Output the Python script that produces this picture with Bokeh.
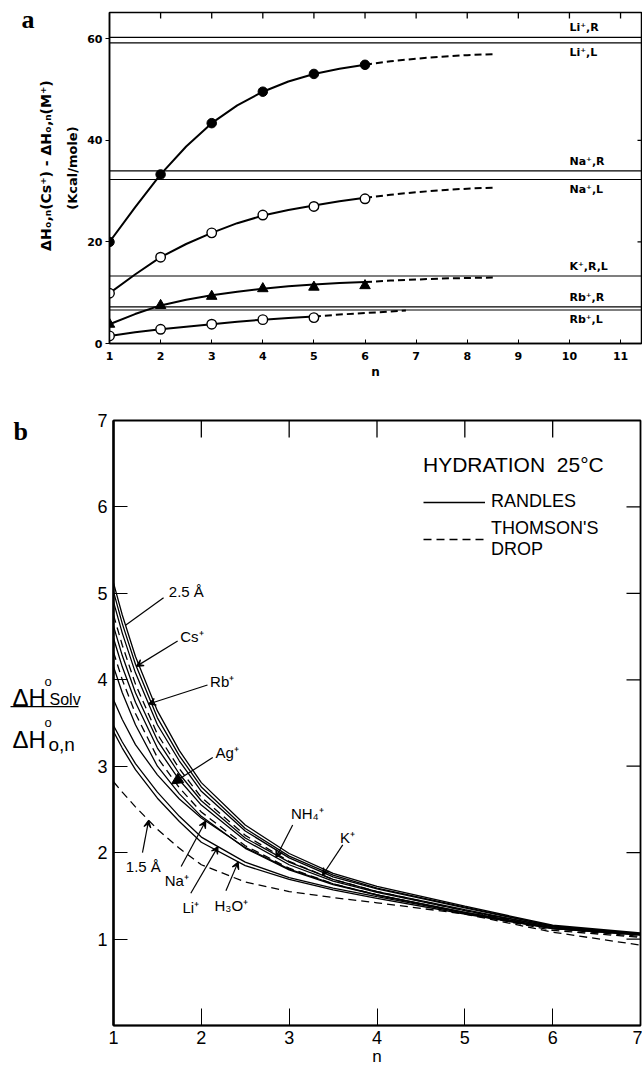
import numpy as np
from bokeh.plotting import figure
from bokeh.models import (Span, Label, Arrow, VeeHead, NormalHead, Range1d,
                          FixedTicker, Legend, LegendItem)
from bokeh.layouts import column, row
from bokeh.embed import file_html
from bokeh.resources import INLINE

# ---------------- panel a : ΔH(Cs+) - ΔH(M+) against n ----------------
a_n = [1, 2, 3, 4, 5, 6]
a_li_pts = [20.0, 33.3, 43.4, 49.6, 53.1, 54.9]
a_na_pts = [9.9, 17.0, 21.8, 25.3, 27.0, 28.5]
a_k_pts = [3.8, 7.5, 9.3, 10.8, 11.1, 11.4]
a_rb_n = [1, 2, 3, 4, 5]
a_rb_pts = [1.5, 2.8, 3.8, 4.7, 5.1]

a_fit_n = [1, 1.5, 2, 2.5, 3, 3.5, 4, 4.5, 5, 5.5, 6]
a_li_fit = [20.0, 26.8, 33.3, 38.8, 43.4, 46.9, 49.6, 51.6, 53.1, 54.1, 54.9]
a_na_fit = [9.9, 13.6, 17.0, 19.6, 21.8, 23.7, 25.2, 26.3, 27.2, 28.0, 28.7]
a_k_fit = [3.8, 5.8, 7.5, 8.6, 9.5, 10.2, 10.8, 11.3, 11.6, 11.9, 12.1]
a_ext_n = [6, 6.5, 7, 7.5, 8, 8.5]
a_li_ext = [54.9, 55.6, 56.1, 56.5, 56.8, 57.0]
a_na_ext = [28.7, 29.3, 29.8, 30.2, 30.5, 30.7]
a_k_ext = [12.1, 12.4, 12.6, 12.8, 12.9, 13.0]
a_rb_fit_n = [1, 1.5, 2, 2.5, 3, 3.5, 4, 4.5, 5]
a_rb_fit = [1.5, 2.2, 2.8, 3.3, 3.8, 4.3, 4.7, 5.0, 5.3]
a_rb_ext_n = [5, 5.5, 6, 6.5, 6.8]
a_rb_ext = [5.3, 5.7, 6.0, 6.3, 6.5]

# limiting values (R = Randles, L = Latimer)
limit_labels = ["Li⁺,R", "Li⁺,L", "Na⁺,R", "Na⁺,L", "K⁺,R,L", "Rb⁺,R", "Rb⁺,L"]
limit_values = [60.3, 59.2, 34.0, 32.3, 13.3, 7.2, 6.6]
limit_side = ["above", "below", "above", "below", "above", "above", "below"]

a_xticks = list(range(1, 12))
a_yticks = [0, 20, 40, 60]
A_XMAX, A_YMAX = 11.41, 65.2

# ---------------- panel b : ΔH_solv / ΔH_0,n against n ----------------
b_n = [1, 1.1, 1.25, 1.5, 1.75, 2, 2.5, 3, 3.5, 4, 5, 6, 7]
b_curves = {
    "r25":  [5.12, 4.75, 4.27, 3.64, 3.18, 2.81, 2.32, 1.99, 1.76, 1.61, 1.38, 1.16, 1.07],
    "cs":   [5.02, 4.65, 4.18, 3.56, 3.12, 2.76, 2.28, 1.96, 1.74, 1.59, 1.37, 1.15, 1.06],
    "rb":   [4.90, 4.54, 4.08, 3.48, 3.06, 2.71, 2.25, 1.94, 1.72, 1.58, 1.36, 1.15, 1.06],
    "dup":  [4.75, 4.40, 3.95, 3.37, 2.97, 2.64, 2.20, 1.90, 1.69, 1.55, 1.33, 1.12, 1.03],
    "k":    [4.62, 4.28, 3.85, 3.30, 2.91, 2.60, 2.17, 1.89, 1.69, 1.55, 1.34, 1.14, 1.06],
    "nh4":  [4.48, 4.15, 3.74, 3.21, 2.84, 2.55, 2.14, 1.86, 1.67, 1.54, 1.33, 1.14, 1.06],
    "dmid": [4.32, 4.00, 3.61, 3.10, 2.75, 2.47, 2.08, 1.82, 1.64, 1.51, 1.30, 1.10, 1.02],
    "ag":   [4.15, 3.85, 3.48, 3.00, 2.68, 2.42, 2.05, 1.80, 1.63, 1.51, 1.31, 1.13, 1.06],
    "na":   [3.77, 3.54, 3.25, 2.90, 2.62, 2.40, 2.06, 1.81, 1.64, 1.51, 1.31, 1.13, 1.05],
    "li":   [3.47, 3.28, 3.03, 2.70, 2.42, 2.18, 1.89, 1.71, 1.59, 1.49, 1.30, 1.12, 1.05],
    "h3o":  [3.40, 3.21, 2.96, 2.63, 2.36, 2.12, 1.85, 1.69, 1.57, 1.47, 1.29, 1.12, 1.05],
    "r15":  [2.82, 2.70, 2.53, 2.27, 2.05, 1.86, 1.66, 1.55, 1.48, 1.42, 1.29, 1.08, 0.93],
}
b_dashed = ["dup", "dmid", "r15"]
b_ticks = [1, 2, 3, 4, 5, 6, 7]
B_XMAX, B_YMAX = 7, 7

# curve labels: text, text anchor (n, value), alignment, arrow start (n, value), curve, n at tip, head
b_labels = [
    ("2.5 Å", (1.63, 5.02), "left", (1.57, 4.95), "r25", 1.137, None),
    ("Cs⁺", (1.76, 4.50), "left", (1.73, 4.45), "cs", 1.26, "vee"),
    ("Rb⁺", (2.10, 3.98), "left", (2.07, 3.94), "rb", 1.40, "vee"),
    ("Ag⁺", (2.16, 3.16), "left", (2.13, 3.10), "ag", 1.66, "solid"),
    ("NH₄⁺", (3.02, 2.45), "left", (3.04, 2.32), "nh4", 2.85, "vee"),
    ("K⁺", (3.58, 2.17), "left", (3.61, 2.09), "k", 3.38, "vee"),
    ("Na⁺", (1.72, 1.68), "center", (1.77, 1.84), "na", 2.05, "vee"),
    ("Li⁺", (1.88, 1.36), "center", (1.88, 1.53), "li", 2.19, "vee"),
    ("H₃O⁺", (2.15, 1.39), "left", (2.28, 1.56), "h3o", 2.42, "vee"),
    ("1.5 Å", (1.14, 1.84), "left", (1.33, 2.00), "r15", 1.40, "vee"),
]

SANS = "Liberation Sans"
LETTER = "DejaVu Sans"
INK = "black"


def margin_figure(w, h):
    """A bare strip whose data units are pixels, for texts left of an axis."""
    m = figure(width=w, height=h, x_range=Range1d(0, w), y_range=Range1d(0, h),
               x_axis_location=None, y_axis_location=None, min_border=0,
               output_backend="svg", toolbar_location=None)
    m.grid.visible = False
    m.outline_line_color = None
    return m


def style_axis(ax, font, size, bold=False):
    ax.major_label_text_font = font
    ax.major_label_text_font_size = size
    ax.major_label_text_font_style = "bold" if bold else "normal"
    ax.major_label_text_color = INK
    ax.axis_label_text_color = INK
    ax.axis_line_color = INK
    ax.major_tick_line_color = INK
    ax.minor_tick_line_color = None


# ======================= panel a =======================
MA_W, A_H = 84, 400
ma = margin_figure(MA_W, A_H)
ma.add_layout(Label(x=21, y=A_H - 8, text="a", text_baseline="alphabetic", text_color=INK,
                    text_font="Liberation Serif", text_font_size="26px", text_font_style="bold"))
ma.add_layout(Label(x=45, y=A_H - 185, text="ΔHₒ,ₙ(Cs⁺) - ΔHₒ,ₙ(M⁺)", angle=np.pi / 2,
                    text_align="center", text_baseline="middle", text_font=LETTER, text_color=INK,
                    text_font_size="14px", text_font_style="bold"))
ma.add_layout(Label(x=72, y=A_H - 188, text="(Kcal/mole)", angle=np.pi / 2,
                    text_align="center", text_baseline="middle", text_font=LETTER, text_color=INK,
                    text_font_size="13px", text_font_style="bold"))

pa = figure(width=642 - MA_W, height=A_H, x_range=Range1d(1, A_XMAX), y_range=Range1d(0, A_YMAX),
            output_backend="svg", toolbar_location=None,
            min_border_left=107 - MA_W, min_border_right=1, min_border_top=12, min_border_bottom=57)
pa.grid.visible = False
pa.outline_line_color = INK
pa.outline_line_width = 1.5

xa = pa.xaxis[0]
style_axis(xa, LETTER, "11px", bold=True)
xa.ticker = FixedTicker(ticks=a_xticks)
xa.major_tick_in = 4
xa.major_tick_out = 0
xa.major_label_standoff = 8
xa.axis_label = "n"
xa.axis_label_text_font = LETTER
xa.axis_label_text_font_size = "12px"
xa.axis_label_text_font_style = "bold"
xa.axis_label_standoff = 2
xa.axis_line_width = 1.5

ya = pa.yaxis[0]
style_axis(ya, LETTER, "11px", bold=True)
ya.ticker = FixedTicker(ticks=a_yticks)
ya.major_tick_in = 0
ya.major_tick_out = 4
ya.major_label_standoff = 3
ya.axis_line_width = 1.5

# inward ticks on the top and right edges of the frame
pa.scatter(a_xticks[1:], [A_YMAX] * len(a_xticks[1:]), marker="dash", angle=np.pi / 2,
           size=12, line_color=INK, line_width=1.3)
pa.scatter([A_XMAX] * 2, [20, 40], marker="dash", size=8, line_color=INK, line_width=1.3)

for val, lab, side in zip(limit_values, limit_labels, limit_side):
    pa.add_layout(Span(location=val, dimension="width", line_color=INK, line_width=1.2))
    pa.add_layout(Label(x=10.0, y=val, text=lab, text_font=LETTER, text_font_size="11px",
                        text_font_style="bold", text_color=INK,
                        text_baseline="bottom" if side == "above" else "top",
                        y_offset=3 if side == "above" else -3))

for fit_n, fit, ext_n, ext in [(a_fit_n, a_li_fit, a_ext_n, a_li_ext),
                               (a_fit_n, a_na_fit, a_ext_n, a_na_ext),
                               (a_fit_n, a_k_fit, a_ext_n, a_k_ext),
                               (a_rb_fit_n, a_rb_fit, a_rb_ext_n, a_rb_ext)]:
    pa.line(fit_n, fit, line_color=INK, line_width=2)
    pa.line(ext_n, ext, line_color=INK, line_width=2, line_dash="7 4")

pa.scatter(a_n, a_li_pts, marker="circle", size=9.5, fill_color=INK, line_color=INK)
pa.scatter(a_n, a_na_pts, marker="circle", size=9.5, fill_color="white", line_color=INK, line_width=1.4)
pa.scatter(a_n, a_k_pts, marker="triangle", size=10.5, fill_color=INK, line_color=INK)
pa.scatter(a_rb_n, a_rb_pts, marker="circle", size=9.5, fill_color="white", line_color=INK, line_width=1.4)

# ======================= panel b =======================
MB_W, B_H = 85, 668
mb = margin_figure(MB_W, B_H)
TOP_B = 400  # page row where panel b begins; margin texts are placed by page rows
mb.add_layout(Label(x=13, y=B_H - (412 - TOP_B), text="b", text_baseline="alphabetic",
                    text_color=INK, text_font="Liberation Serif",
                    text_font_size="26px", text_font_style="bold"))
frac = [("ΔH", 12, 706, "24px"), ("o", 44, 688, "13px"), ("Solv", 49, 708, "16px"),
        ("ΔH", 12, 752, "24px"), ("o", 44, 733, "13px"), ("o,n", 48, 758, "19px")]
for text, px, py, size in frac:
    mb.add_layout(Label(x=px, y=B_H - (py - TOP_B), text=text, text_baseline="alphabetic",
                        text_font=SANS, text_font_size=size, text_color=INK))
mb.line([10, 78], [B_H - (716 - TOP_B)] * 2, line_color=INK, line_width=1.3)

pb = figure(width=642 - MB_W, height=B_H, x_range=Range1d(1, B_XMAX), y_range=Range1d(0, B_YMAX),
            output_backend="svg", toolbar_location=None,
            min_border_left=113 - MB_W, min_border_right=2, min_border_top=20, min_border_bottom=43)
pb.grid.visible = False
pb.outline_line_color = INK
pb.outline_line_width = 1.8

xb = pb.xaxis[0]
style_axis(xb, SANS, "18px")
xb.ticker = FixedTicker(ticks=b_ticks)
xb.major_tick_in = 17
xb.major_tick_out = 0
xb.major_label_standoff = 5
xb.axis_label = "n"
xb.axis_label_text_font = SANS
xb.axis_label_text_font_size = "17px"
xb.axis_label_text_font_style = "normal"
xb.axis_label_standoff = 0
xb.axis_line_width = 1.5

yb = pb.yaxis[0]
style_axis(yb, SANS, "18px")
yb.ticker = FixedTicker(ticks=b_ticks)
yb.major_tick_in = 14
yb.major_tick_out = 0
yb.major_label_standoff = 6
yb.axis_line_width = 2.4

pb.scatter(b_ticks[1:-1], [B_YMAX] * len(b_ticks[1:-1]), marker="dash", angle=np.pi / 2,
           size=34, line_color=INK, line_width=1.3)
pb.scatter([B_XMAX] * len(b_ticks[:-1]), b_ticks[:-1], marker="dash", size=28,
           line_color=INK, line_width=1.3)

renderers = {}
for key, vals in b_curves.items():
    if key in b_dashed:
        renderers[key] = pb.line(b_n, vals, line_color=INK, line_width=1.3, line_dash="8 5")
    else:
        renderers[key] = pb.line(b_n, vals, line_color=INK, line_width=1.3)

for text, (tx, ty), align, (sx, sy), key, tip_n, head in b_labels:
    tip_v = float(np.interp(tip_n, b_n, b_curves[key]))
    if head == "vee":
        end = VeeHead(size=7, line_width=1.2, line_color=INK)
    elif head == "solid":
        end = NormalHead(size=11, fill_color=INK, line_color=INK)
    else:
        end = None
    pb.add_layout(Arrow(end=end, x_start=sx, y_start=sy, x_end=tip_n, y_end=tip_v,
                        line_width=1.2, line_color=INK))
    pb.add_layout(Label(x=tx, y=ty, text=text, text_align=align, text_baseline="middle",
                        text_font=SANS, text_font_size="15px", text_color=INK))

legend = Legend(items=[LegendItem(label="RANDLES", renderers=[renderers["r25"]]),
                       LegendItem(label="THOMSON'S\nDROP", renderers=[renderers["dup"]])],
                title="HYDRATION  25°C", location=(310, 465), padding=0, margin=0,
                border_line_color=None, background_fill_alpha=0,
                title_text_font=SANS, title_text_font_size="21px", title_text_color=INK,
                title_text_font_style="normal", title_standoff=14,
                label_text_font=SANS, label_text_font_size="18px", label_text_color=INK,
                glyph_width=62, label_standoff=6, spacing=6)
pb.add_layout(legend, "center")

layout = column(row(ma, pa), row(mb, pb))
open("out.html", "w").write(file_html(layout, INLINE))
